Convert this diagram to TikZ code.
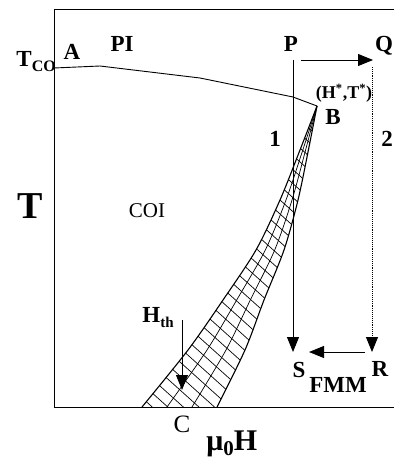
\documentclass[tikz,border=0pt]{standalone}
\usepackage{fontspec}
\setmainfont{Liberation Serif}
\usetikzlibrary{arrows.meta}
\begin{document}
\begin{tikzpicture}[x=1pt,y=-1pt,line width=0.9pt,
  lbl/.style={font=\fontsize{23}{23}\selectfont\bfseries,inner sep=0pt,anchor=base},
  tip/.style={-{Triangle[length=15pt,width=12pt]}},
  hatch/.style={line width=0.7pt},
  edge/.style={line width=1.1pt}]
\useasboundingbox (0,0) rectangle (394,462);
% frame
\coordinate (tr) at (394,9);
\coordinate (tl) at (54,9);
\coordinate (bl) at (54,407);
\coordinate (br) at (394,407);
\draw (tr) -- (tl) -- (bl) -- (br);
% phase boundary PI / COI
\coordinate (A0) at (54,68);
\coordinate (Ak) at (100,66);
\coordinate (B) at (317,106);
\draw (A0) -- (Ak) -- (200,78) -- (293,97) -- (B);
% hatched region
\begin{scope}
\clip plot[smooth] coordinates {(317,106) (300,150) (280,200) (256,250) (223,300) (188,350) (142,407)}
  -- plot[smooth] coordinates {(217,407) (245,350) (264,300) (284,250) (298,200) (308.4,150) (317,106)} -- cycle;
\foreach \c in {-150,-136,...,300}
  \draw[hatch] (100,{\c+90}) -- (340,{\c+306});
\end{scope}
\draw[hatch] plot[smooth] coordinates {(317,106) (302.8,150) (286,200) (265.3,250) (236.7,300) (207,350) (167,407)};
\draw[hatch] plot[smooth] coordinates {(317,106) (305.6,150) (292,200) (274.7,250) (250.3,300) (226,350) (192,407)};
\draw[edge] plot[smooth] coordinates {(317,106) (300,150) (280,200) (256,250) (223,300) (188,350) (142,407)};
\draw[edge] plot[smooth] coordinates {(217,407) (245,350) (264,300) (284,250) (298,200) (308.4,150) (317,106)};
% paths
\coordinate (p1) at (293,60);
\coordinate (s1) at (293,352);
\coordinate (q1) at (372,67);
\coordinate (r1) at (372,352);
\coordinate (pq0) at (301,60);
\coordinate (pq1) at (373,60);
\coordinate (rs0) at (365,352);
\coordinate (rs1) at (309,352);
\coordinate (h0) at (182,320);
\coordinate (h1) at (182,390);
\draw[tip] (p1) -- (s1);
\draw[tip,densely dotted] (q1) -- (r1);
\draw[tip] (pq0) -- (pq1);
\draw[tip] (rs0) -- (rs1);
\draw[tip] (h0) -- (h1);
% labels
\node[lbl,anchor=base west] (tco) at (16,67) {T\raisebox{-5pt}{\fontsize{16}{16}\selectfont CO}};
\node[lbl] (la) at (72,60) {A};
\node[lbl] (lpi) at (122,52) {PI};
\node[lbl] (lp) at (291,52) {P};
\node[lbl] (lq) at (384,52) {Q};
\node[lbl,font=\fontsize{18}{18}\selectfont\bfseries] (lht) at (344,99) {(H\textsuperscript{*},T\textsuperscript{*})};
\node[lbl] (lb) at (333,125) {B};
\node[lbl] (l1) at (275,147) {1};
\node[lbl] (l2) at (387,147) {2};
\node[lbl,font=\fontsize{38}{38}\selectfont\bfseries] (lt) at (30,218) {T};
\node[lbl,font=\fontsize{21}{21}\selectfont] (lcoi) at (147,217) {COI};
\node[lbl,anchor=base west] (lhth) at (142,322) {H\raisebox{-5pt}{\fontsize{15}{15}\selectfont th}};
\node[lbl,font=\fontsize{25}{25}\selectfont] (lc) at (182,432) {C};
\node[lbl,anchor=base west,font=\fontsize{30}{30}\selectfont\bfseries] (lmu) at (206,450) {μ\raisebox{-5pt}{\fontsize{21}{21}\selectfont 0}H};
\node[lbl] (ls) at (299,377) {S};
\node[lbl] (lfmm) at (338,392) {FMM};
\node[lbl] (lr) at (380,376) {R};
\end{tikzpicture}
\end{document}
